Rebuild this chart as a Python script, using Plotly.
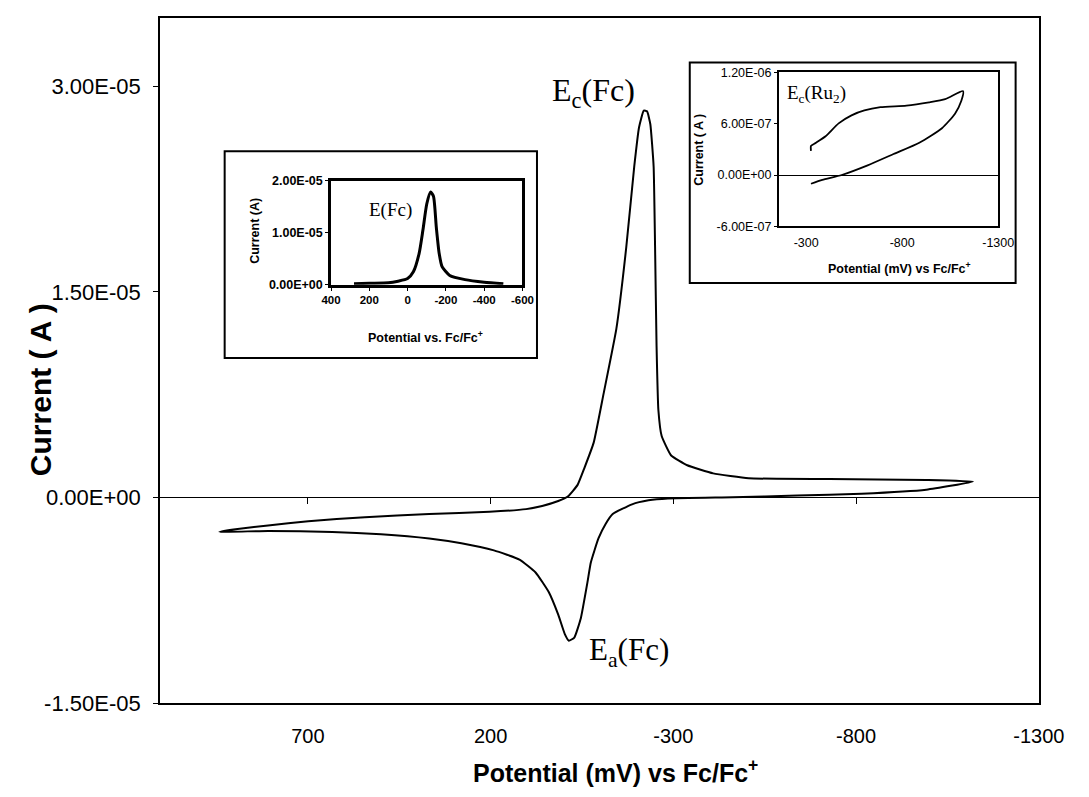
import plotly.graph_objects as go

# ---------------- data ----------------
# main cyclic voltammogram (potential in mV vs Fc/Fc+, current in microamps)
main_potential_mV = [942, 898, 809, 699, 544, 368, 203, 103, 59, 15, -12, -38, -56, -82, -109,
                     -144, -171, -193, -206, -219, -228, -237, -246, -250, -254, -259, -268, -294,
                     -338, -409, -506, -727, -992, -1120, -992, -815, -639, -462, -285, -232, -187,
                     -134, -115, -95, -74, -65, -47, -29, -14, -3, 15, 41, 77, 121, 191, 280, 368,
                     500, 633, 809, 942]
main_current_uA = [-2.51, -2.32, -2.04, -1.73, -1.44, -1.21, -1.05, -0.85, -0.62, -0.26, 0.09, 0.92,
                   2.11, 4.00, 7.56, 12.30, 18.22, 24.15, 26.99, 28.22, 28.17, 27.23, 24.15, 18.22,
                   11.11, 6.38, 4.48, 3.06, 2.35, 1.76, 1.40, 1.35, 1.28, 1.16, 0.57, 0.28, 0.14,
                   0.02, -0.07, -0.21, -0.50, -1.21, -1.92, -2.99, -4.76, -6.18, -8.79, -10.22,
                   -10.45, -9.97, -8.55, -6.90, -5.47, -4.53, -3.86, -3.34, -2.99, -2.68, -2.51,
                   -2.44, -2.51]

# inset 1: E(Fc) differential pulse
dpv_potential_mV = [280, 200, 100, 50, 0, -30, -60, -80, -100, -120, -135, -150, -165, -180,
                    -220, -300, -400, -500]
dpv_current_uA = [0.2, 0.3, 0.4, 0.7, 1.2, 2.5, 6.0, 10.5, 15.5, 17.8, 17.0, 11.0, 6.0, 3.5,
                  1.8, 1.0, 0.5, 0.2]

# inset 2: Ec(Ru2) cyclic voltammogram
ru_potential_mV = [-325, -325, -351, -401, -469, -536, -603, -687, -822, -940, -1024, -1117,
                   -1108, -1075, -1007, -889, -755, -620, -485, -384, -325]
ru_current_uA = [0.283, 0.340, 0.377, 0.453, 0.603, 0.697, 0.754, 0.792, 0.811, 0.849, 0.886,
                 0.980, 0.867, 0.717, 0.547, 0.377, 0.245, 0.113, 0.0, -0.057, -0.102]

main_xticks = [700, 200, -300, -800, -1300]
main_yticks = [-1.5e-5, 0, 1.5e-5, 3.0e-5]
main_ytick_text = ["-1.50E-05", "0.00E+00", "1.50E-05", "3.00E-05"]
dpv_xticks = [400, 200, 0, -200, -400, -600]
dpv_yticks = [0, 1e-5, 2e-5]
dpv_ytick_text = ["0.00E+00", "1.00E-05", "2.00E-05"]
ru_xticks = [-300, -800, -1300]
ru_yticks = [-6e-7, 0, 6e-7, 1.2e-6]
ru_ytick_text = ["-6.00E-07", "0.00E+00", "6.00E-07", "1.20E-06"]

# ---------------- layout helpers ----------------
W, H = 1089, 797
def fx(p):
    return p / W
def fy(p):
    return 1 - p / H

SANS = "Liberation Sans"
SERIF = "Liberation Serif"

fig = go.Figure()

fig.add_trace(go.Scatter(x=main_potential_mV, y=[c * 1e-6 for c in main_current_uA],
                         mode="lines", line=dict(color="black", width=2, shape="spline", smoothing=0.4),
                         xaxis="x", yaxis="y", hoverinfo="skip", showlegend=False))
# invisible trace to host the zero-crossing axis
fig.add_trace(go.Scatter(x=[700], y=[0], mode="markers", marker=dict(opacity=0),
                         xaxis="x2", yaxis="y", hoverinfo="skip", showlegend=False))
fig.add_trace(go.Scatter(x=dpv_potential_mV, y=[c * 1e-6 for c in dpv_current_uA],
                         mode="lines", line=dict(color="black", width=3, shape="spline", smoothing=0.6),
                         xaxis="x3", yaxis="y3", hoverinfo="skip", showlegend=False))
fig.add_trace(go.Scatter(x=ru_potential_mV, y=[c * 1e-6 for c in ru_current_uA],
                         mode="lines", line=dict(color="black", width=1.8, shape="spline", smoothing=0.6),
                         xaxis="x4", yaxis="y4", hoverinfo="skip", showlegend=False))

main_xrange = [1105, -1300]

shapes = [
    dict(type="rect", xref="paper", yref="paper", x0=fx(222), x1=fx(545), y0=fy(360), y1=fy(148),
         line=dict(color="black", width=2), fillcolor="white", layer="below"),
    dict(type="rect", xref="paper", yref="paper", x0=fx(703), x1=fx(1040), y0=fy(283), y1=fy(57),
         line=dict(color="black", width=2), fillcolor="white", layer="below"),
]

BOLD12 = dict(family=SANS, size=12.5, color="black", weight="bold")


def note(text, x, y, font, xanchor="center", yanchor="middle", angle=0):
    return dict(text=text, x=fx(x), y=fy(y), xref="paper", yref="paper", xanchor=xanchor,
                yanchor=yanchor, textangle=angle, showarrow=False, font=font)


annotations = [
    note("Current ( A )", 31, 392, dict(family=SANS, size=30, color="black", weight="bold"), angle=-90),
    note("Potential (mV) vs Fc/Fc<sup>+</sup>", 626, 784,
         dict(family=SANS, size=25, color="black", weight="bold")),
    note("E<sub>c</sub>(Fc)", 648, 88, dict(family=SERIF, size=32, color="black"), xanchor="right"),
    note("E<sub>a</sub>(Fc)", 597, 662, dict(family=SERIF, size=31, color="black"), xanchor="left"),
    note("E(Fc)", 393, 208, dict(family=SERIF, size=19, color="black")),
    note("E<sub>c</sub>(Ru<sub>2</sub>)", 801, 89, dict(family=SERIF, size=19, color="black"),
         xanchor="left"),
    note("Current (A)", 254, 230, BOLD12, angle=-90),
    note("Potential vs. Fc/Fc<sup>+</sup>", 430, 339, BOLD12),
    note("Current ( A )", 713, 146, BOLD12, angle=-90),
    note("Potential (mV) vs Fc/Fc<sup>+</sup>", 920, 268, BOLD12),
]

fig.update_layout(
    width=W, height=H, margin=dict(l=0, r=0, t=0, b=0),
    paper_bgcolor="white", plot_bgcolor="white", showlegend=False,
    shapes=shapes, annotations=annotations,
    xaxis=dict(domain=[fx(155), fx(1064)], range=main_xrange, anchor="y",
               tickvals=main_xticks, ticktext=[str(v) for v in main_xticks], ticks="",
               ticklabelstandoff=14,
               showline=True, mirror=True, linecolor="black", linewidth=1.5,
               showgrid=False, zeroline=False,
               tickfont=dict(family=SANS, size=20, color="black")),
    xaxis2=dict(overlaying="x", range=main_xrange, anchor="free", position=fy(503),
                tickvals=main_xticks[:-1], ticks="outside", ticklen=6, tickcolor="black",
                showticklabels=False, showline=True, linecolor="black", linewidth=1,
                showgrid=False, zeroline=False),
    yaxis=dict(domain=[fy(714), fy(11)], range=[-1.5e-5, 3.5e-5], anchor="x",
               tickvals=main_yticks, ticktext=main_ytick_text, ticks="outside", ticklen=5,
               ticklabelstandoff=8,
               tickcolor="black", showline=True, mirror=True, linecolor="black", linewidth=1.5,
               showgrid=False, zeroline=False,
               tickfont=dict(family=SANS, size=22, color="black")),
    xaxis3=dict(domain=[fx(332), fx(530)], range=[400, -600], anchor="y3",
                tickvals=dpv_xticks, ticktext=[str(v) for v in dpv_xticks], ticks="outside",
                ticklen=3, tickcolor="black", showline=True, mirror=True, linecolor="black",
                linewidth=2.5, showgrid=False, zeroline=False,
                tickfont=dict(family=SANS, size=11.5, color="black", weight="bold")),
    yaxis3=dict(domain=[fy(285), fy(178)], range=[0, 2e-5], anchor="x3",
                tickvals=dpv_yticks, ticktext=dpv_ytick_text, ticks="outside", ticklen=3,
                tickcolor="black", showline=True, mirror=True, linecolor="black", linewidth=2.5,
                showgrid=False, zeroline=False,
                tickfont=dict(family=SANS, size=12.5, color="black", weight="bold")),
    xaxis4=dict(domain=[fx(795), fx(1022)], range=[-157, -1300], anchor="y4",
                tickvals=ru_xticks, ticktext=[str(v) for v in ru_xticks], ticks="",
                ticklabelstandoff=4,
                showline=True, mirror=True, linecolor="black", linewidth=1.5,
                showgrid=False, zeroline=False,
                tickfont=dict(family=SANS, size=12.5, color="black")),
    yaxis4=dict(domain=[fy(225), fy(67)], range=[-6e-7, 1.2e-6], anchor="x4",
                tickvals=ru_yticks, ticktext=ru_ytick_text, ticks="outside", ticklen=3,
                tickcolor="black", showline=True, mirror=True, linecolor="black", linewidth=1.5,
                showgrid=False, zeroline=True, zerolinecolor="black", zerolinewidth=1,
                tickfont=dict(family=SANS, size=12.5, color="black")),
)

fig.write_html("out.html")
